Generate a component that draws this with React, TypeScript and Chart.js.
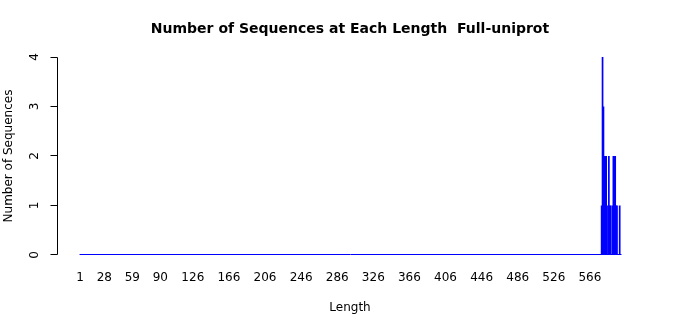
import React, { useEffect, useRef } from "react";
import { Chart, registerables } from "chart.js";

Chart.register(...registerables);

// ---- data ----
const chartTitle = "Number of Sequences at Each Length  Full-uniprot";
const xAxisTitle = "Length";
const yAxisTitle = "Number of Sequences";
const maxLength = 600; // lengths 1..maxLength are the categories
const observedLengths = [579, 580, 581, 582, 583, 584, 585, 587, 588, 589, 591, 592, 593, 594, 595, 596, 599];
const observedCounts = [1, 4, 3, 2, 2, 2, 1, 2, 1, 1, 1, 2, 2, 2, 1, 1, 1];
const xTickLabels = [1, 28, 59, 90, 126, 166, 206, 246, 286, 326, 366, 406, 446, 486, 526, 566];
const yTickLabels = [0, 1, 2, 3, 4];

const FONT = '"DejaVu Sans", "Liberation Sans", sans-serif';

export default function App() {
  const ref = useRef<HTMLCanvasElement | null>(null);

  useEffect(() => {
    if (!ref.current) return;
    const lengths: number[] = [];
    for (let i = 1; i <= maxLength; i++) lengths.push(i);
    const countByLength = new Map<number, number>();
    observedLengths.forEach((l, k) => countByLength.set(l, observedCounts[k]));
    const points = lengths.map((l) => ({ x: l, y: countByLength.get(l) ?? 0 }));

    const pxPerUnit = 0.9025;
    const left = 58;
    const right = 643;
    const firstCenter = 80;
    const xMin = 1 - (firstCenter - left) / pxPerUnit;
    const xMax = xMin + (right - left) / pxPerUnit;

    const axesPlugin = {
      id: "rAxes",
      afterDatasetsDraw(chart: any) {
        const ctx = chart.ctx as CanvasRenderingContext2D;
        const xs = chart.scales.x;
        const ys = chart.scales.y;
        const ca = chart.chartArea;
        ctx.save();
        // baseline of zero-height bars
        ctx.strokeStyle = "#0000ff";
        ctx.lineWidth = 1;
        const y0 = Math.round(ys.getPixelForValue(0)) - 0.5;
        ctx.beginPath();
        ctx.moveTo(xs.getPixelForValue(1) - 0.45, y0);
        ctx.lineTo(xs.getPixelForValue(maxLength) + 0.9, y0);
        ctx.stroke();

        // y axis
        ctx.strokeStyle = "#000";
        const ax = Math.round(ca.left) - 0.5;
        ctx.beginPath();
        ctx.moveTo(ax, Math.round(ys.getPixelForValue(0)) - 0.5);
        ctx.lineTo(ax, Math.round(ys.getPixelForValue(4)) + 0.5);
        ctx.stroke();
        ctx.fillStyle = "#000";
        ctx.font = `12px ${FONT}`;
        yTickLabels.forEach((v) => {
          const py = Math.round(ys.getPixelForValue(v)) - 0.5 + (v === 4 ? 1 : 0);
          ctx.beginPath();
          ctx.moveTo(ax, py);
          ctx.lineTo(ax - 7, py);
          ctx.stroke();
          ctx.save();
          ctx.translate(35, ys.getPixelForValue(v));
          ctx.rotate(-Math.PI / 2);
          ctx.textAlign = "center";
          ctx.textBaseline = "middle";
          ctx.fillText(String(v), 0, 0);
          ctx.restore();
        });
        // y title
        ctx.save();
        ctx.translate(9, (ca.top + ca.bottom) / 2);
        ctx.rotate(-Math.PI / 2);
        ctx.textAlign = "center";
        ctx.textBaseline = "middle";
        ctx.fillText(yAxisTitle, 0, 0);
        ctx.restore();

        // x tick labels
        ctx.textAlign = "center";
        ctx.textBaseline = "middle";
        xTickLabels.forEach((v) => {
          ctx.fillText(String(v), xs.getPixelForValue(v), 278);
        });
        ctx.fillText(xAxisTitle, 350, 308);

        // title
        ctx.font = `bold 14px ${FONT}`;
        ctx.fillText(chartTitle, 350, 29.5);
        ctx.restore();
      },
    };

    const chart = new Chart(ref.current, {
      type: "bar",
      data: {
        datasets: [
          {
            data: points,
            backgroundColor: "#0000ff",
            borderColor: "#0000ff",
            borderWidth: 0,
            barPercentage: 1.9,
            categoryPercentage: 1,
          } as any,
        ],
      },
      options: {
        animation: false,
        responsive: false,
        devicePixelRatio: 1,
        layout: { padding: { left: left, right: 700 - right, top: 57, bottom: 315 - 255 } },
        plugins: { legend: { display: false }, title: { display: false }, tooltip: { enabled: false } },
        scales: {
          x: { type: "linear", min: xMin, max: xMax, display: false, offset: false },
          y: { min: 0, max: 4, display: false },
        },
      },
      plugins: [axesPlugin],
    });
    return () => chart.destroy();
  }, []);

  return (
    <div style={{ position: "fixed", left: 0, top: 0, width: 700, height: 315, background: "#fff" }}>
      <canvas ref={ref} width={700} height={315} />
    </div>
  );
}
